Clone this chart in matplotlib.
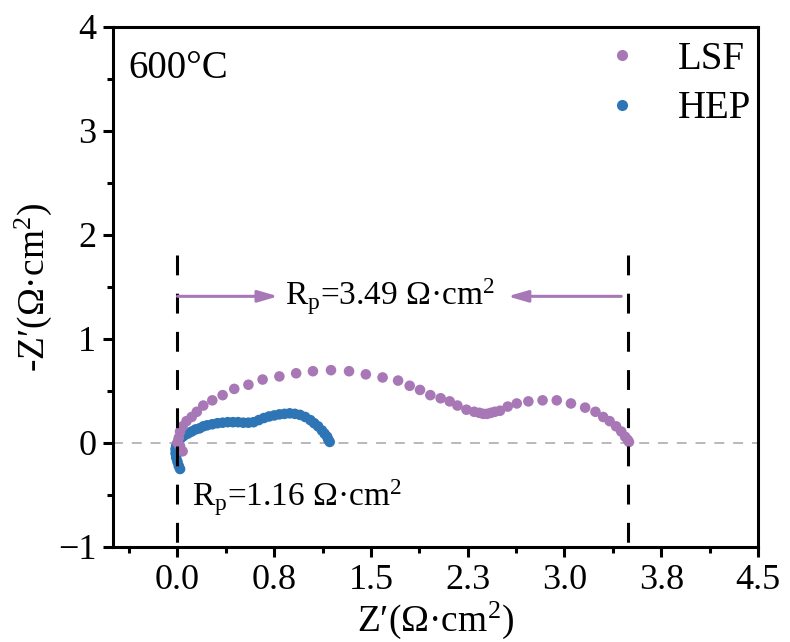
import matplotlib
matplotlib.use("Agg")
import matplotlib.pyplot as plt
from matplotlib.lines import Line2D

plt.rcParams.update({
    "font.family": ["Liberation Serif", "DejaVu Serif"],
    "mathtext.fontset": "custom",
    "mathtext.rm": "Liberation Serif",
    "mathtext.it": "Liberation Serif:italic",
    "axes.unicode_minus": True,
})

# LSF spectrum
lsf_x = [0.04, 0.02, 0.00, 0.01, 0.02, 0.04, 0.07, 0.11, 0.15, 0.20, 0.27,
         0.35, 0.44, 0.55, 0.66, 0.79, 0.92, 1.05, 1.19, 1.33, 1.46, 1.59,
         1.71, 1.80, 1.88, 1.96, 2.04, 2.11, 2.17, 2.24, 2.30, 2.34, 2.37,
         2.40, 2.43, 2.46, 2.50, 2.56, 2.63, 2.72, 2.83, 2.94, 3.05, 3.16,
         3.24, 3.30, 3.35, 3.40, 3.44, 3.47, 3.49, 3.50]
lsf_y = [-0.08, -0.03, 0.00, 0.05, 0.11, 0.16, 0.21, 0.25, 0.30, 0.36, 0.41,
         0.46, 0.52, 0.56, 0.61, 0.64, 0.67, 0.69, 0.70, 0.69, 0.66, 0.63,
         0.60, 0.55, 0.51, 0.46, 0.43, 0.40, 0.36, 0.32, 0.30, 0.29, 0.28,
         0.28, 0.29, 0.30, 0.31, 0.35, 0.38, 0.40, 0.41, 0.41, 0.38, 0.34,
         0.30, 0.25, 0.21, 0.16, 0.11, 0.06, 0.03, 0.01]

# HEP spectrum
hep_x = [0.02, 0.01, 0.00, -0.01, -0.015, -0.015, -0.01, 0.00, 0.01, 0.03,
         0.05, 0.08, 0.11, 0.14, 0.17, 0.20, 0.23, 0.27, 0.31, 0.35, 0.39,
         0.43, 0.47, 0.51, 0.55, 0.59, 0.63, 0.67, 0.71, 0.75, 0.79, 0.83,
         0.87, 0.91, 0.95, 0.99, 1.03, 1.06, 1.09, 1.12, 1.14, 1.16, 1.17,
         1.18]
hep_y = [-0.25, -0.22, -0.18, -0.14, -0.10, -0.06, -0.03, 0.00, 0.03, 0.05,
         0.07, 0.09, 0.11, 0.13, 0.14, 0.16, 0.17, 0.18, 0.19, 0.195, 0.20,
         0.20, 0.20, 0.195, 0.195, 0.20, 0.22, 0.24, 0.255, 0.265, 0.275,
         0.28, 0.285, 0.28, 0.27, 0.25, 0.22, 0.19, 0.16, 0.12, 0.09, 0.06,
         0.03, 0.01]

rp_lsf = 3.49
rp_hep = 1.16
x_ticks = [0.0, 0.75, 1.5, 2.25, 3.0, 3.75, 4.5]
x_ticklabels = ["0.0", "0.8", "1.5", "2.3", "3.0", "3.8", "4.5"]
y_ticks = [-1, 0, 1, 2, 3, 4]

LSF_COLOR = "#A878B6"
HEP_COLOR = "#2E75B6"

fig = plt.figure(figsize=(7.9, 6.42), dpi=100)
ax = fig.add_axes([0.143, 0.148, 0.8165, 0.810])

ax.scatter(hep_x, hep_y, s=58, color=HEP_COLOR, edgecolors="none", zorder=3)
ax.scatter(lsf_x, lsf_y, s=58, color=LSF_COLOR, edgecolors="none", zorder=4)

# zero line and Rp markers
ax.axhline(0, color="#A6A6A6", lw=1.1, dashes=(6.5, 5.8), zorder=1)
for xv in (0.0, rp_lsf):
    ax.plot([xv, xv], [1.81, -1], color="black", lw=2.2, dashes=(6.5, 6),
            zorder=5)

arrow_kw = dict(arrowstyle="-|>,head_length=1.2,head_width=0.35",
                color=LSF_COLOR, lw=2.2, shrinkA=0, shrinkB=0)
ax.annotate("", xy=(0.78, 1.41), xytext=(0.0, 1.41), arrowprops=arrow_kw,
            zorder=6)
ax.annotate("", xy=(2.56, 1.41), xytext=(3.44, 1.41), arrowprops=arrow_kw,
            zorder=6)

ax.text(1.65, 1.41, r"R$_\mathrm{p}$=%.2f Ω·cm$^2$" % rp_lsf, fontsize=24,
        ha="center", va="center")
ax.text(0.11, -0.53, r"R$_\mathrm{p}$=%.2f Ω·cm$^2$" % rp_hep, fontsize=24,
        ha="left", va="center")
ax.text(-0.38, 3.6, "600°C", fontsize=28, ha="left", va="center")

handles = [Line2D([], [], ls="none", marker="o", ms=8, mec="none",
                  color=LSF_COLOR, label="LSF"),
           Line2D([], [], ls="none", marker="o", ms=8, mec="none",
                  color=HEP_COLOR, label="HEP")]
ax.legend(handles=handles, loc="upper right", frameon=False, fontsize=28,
          handlelength=1.0, handletextpad=0.95, labelspacing=0.32,
          borderpad=0, borderaxespad=0, bbox_to_anchor=(0.99, 0.973))

ax.set_xlim(-0.5, 4.5)
ax.set_ylim(-1, 4)
ax.set_xticks(x_ticks)
ax.set_xticklabels(x_ticklabels)
ax.set_xticks([-0.375, 0.375, 1.125, 1.875, 2.625, 3.375, 4.125], minor=True)
ax.set_yticks(y_ticks)
ax.set_yticks([-0.5, 0.5, 1.5, 2.5, 3.5], minor=True)

ax.tick_params(which="both", direction="out", width=2.2, labelsize=26,
               top=False, right=False)
ax.tick_params(which="major", length=7, pad=5)
ax.tick_params(which="minor", length=4)
for sp in ax.spines.values():
    sp.set_linewidth(2.2)

ax.set_xlabel("Z′(Ω·cm$^2$)", fontsize=27, labelpad=2)
ax.set_ylabel("-Z′(Ω·cm$^2$)", fontsize=27, labelpad=3)

fig.savefig("out.png", dpi=100)
